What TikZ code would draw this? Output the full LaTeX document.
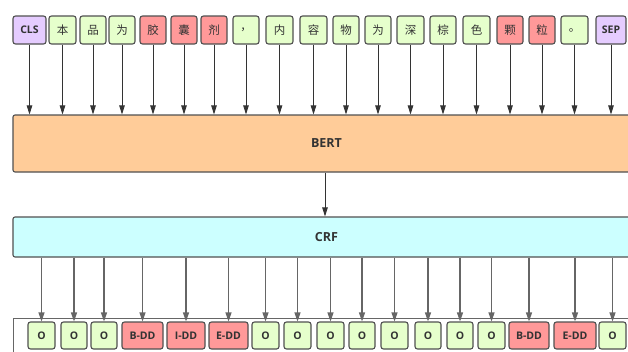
\documentclass[tikz,border=0pt]{standalone}
\usepackage{fontspec}
\setmainfont{Open Sans}
\newfontfamily\cjk{Noto Sans CJK SC}
\usetikzlibrary{arrows.meta}
\definecolor{gfill}{HTML}{E6FFCC}
\definecolor{rfill}{HTML}{FF9999}
\definecolor{pfill}{HTML}{E5CCFF}
\definecolor{bertc}{HTML}{FFCC99}
\definecolor{crfc}{HTML}{CCFFFF}
\definecolor{bordc}{HTML}{505050}
\definecolor{txtc}{HTML}{333333}
\definecolor{arrc}{HTML}{333333}
\definecolor{arr2c}{HTML}{666666}
\tikzset{
  tok/.style={draw=bordc, line width=1.1pt, rounded corners=2.5pt, minimum height=28pt,
    inner sep=0pt, text=txtc, font=\fontsize{10.5}{12}\selectfont\bfseries},
  otok/.style={tok, minimum height=27pt},
  zh/.style={font=\cjk\fontsize{11.5}{13}\selectfont},
  bigbox/.style={draw=bordc, line width=1.1pt, rounded corners=2pt, inner sep=0pt,
    text=txtc, font=\fontsize{12.5}{14}\selectfont\bfseries, minimum width=627pt},
  toparrow/.style={draw=arrc, line width=0.9pt, -{Triangle[length=9pt,width=5.5pt]}},
  botarrow/.style={draw=arr2c, line width=1.1pt, -{Triangle[length=9pt,width=6pt]}},
}
\begin{document}
\begin{tikzpicture}[x=1pt,y=-1pt]
\clip (0,0) rectangle (628,351);
\useasboundingbox (0,0) rectangle (628,351);
\fill[white] (0,0) rectangle (628,351);
% top tokens
\node[tok, fill=pfill, minimum width=33pt] (t1) at (29.5,30) {CLS};
\node[tok, zh, fill=gfill, minimum width=27pt] (t2) at (62.5,30) {本};
\node[tok, zh, fill=gfill, minimum width=26pt] (t3) at (93,30) {品};
\node[tok, zh, fill=gfill, minimum width=26pt] (t4) at (122,30) {为};
\node[tok, zh, fill=rfill, minimum width=26pt] (t5) at (153,30) {胶};
\node[tok, zh, fill=rfill, minimum width=26pt] (t6) at (184,30) {囊};
\node[tok, zh, fill=rfill, minimum width=26pt] (t7) at (214,30) {剂};
\node[tok, zh, fill=gfill, minimum width=26pt] (t8) at (246,30) {，};
\node[tok, zh, fill=gfill, minimum width=27pt] (t9) at (279.5,30) {内};
\node[tok, zh, fill=gfill, minimum width=27pt] (t10) at (313.5,30) {容};
\node[tok, zh, fill=gfill, minimum width=26pt] (t11) at (346,30) {物};
\node[tok, zh, fill=gfill, minimum width=26pt] (t12) at (378,30) {为};
\node[tok, zh, fill=gfill, minimum width=27pt] (t13) at (410.5,30) {深};
\node[tok, zh, fill=gfill, minimum width=26pt] (t14) at (443,30) {棕};
\node[tok, zh, fill=gfill, minimum width=27pt] (t15) at (476.5,30) {色};
\node[tok, zh, fill=rfill, minimum width=26pt] (t16) at (510,30) {颗};
\node[tok, zh, fill=rfill, minimum width=26pt] (t17) at (542,30) {粒};
\node[tok, zh, fill=gfill, minimum width=27pt] (t18) at (574.5,30) {。};
\node[tok, fill=pfill, minimum width=30pt] (t19) at (611,30) {SEP};
% BERT and CRF
\node[bigbox, fill=bertc, minimum height=57pt] (bert) at (326.5,143.5) {BERT};
\node[bigbox, fill=crfc, minimum height=40pt] (crf) at (326.5,237) {CRF};
\foreach \i in {1,...,19} \draw[toparrow] (t\i.south) -- (t\i.south |- bert.north);
\draw[toparrow] (bert.south -| 325,0) -- (crf.north -| 325,0);
% output container
\node[draw=arr2c, line width=1pt, fill=white, minimum width=640pt, minimum height=80pt, anchor=north west, inner sep=0pt] (outbox) at (13,318) {};
% output tokens
\node[otok, fill=gfill, minimum width=27pt] (o1) at (41.5,335.5) {O};
\node[otok, fill=gfill, minimum width=26pt] (o2) at (74,335.5) {O};
\node[otok, fill=gfill, minimum width=26pt] (o3) at (104,335.5) {O};
\node[otok, fill=rfill, minimum width=41pt] (o4) at (142.5,335.5) {B-DD};
\node[otok, fill=rfill, minimum width=38pt] (o5) at (186,335.5) {I-DD};
\node[otok, fill=rfill, minimum width=39pt] (o6) at (228.5,335.5) {E-DD};
\node[otok, fill=gfill, minimum width=27pt] (o7) at (265.5,335.5) {O};
\node[otok, fill=gfill, minimum width=27pt] (o8) at (297.5,335.5) {O};
\node[otok, fill=gfill, minimum width=27pt] (o9) at (330.5,335.5) {O};
\node[otok, fill=gfill, minimum width=26pt] (o10) at (362,335.5) {O};
\node[otok, fill=gfill, minimum width=27pt] (o11) at (394.5,335.5) {O};
\node[otok, fill=gfill, minimum width=26pt] (o12) at (428,335.5) {O};
\node[otok, fill=gfill, minimum width=26pt] (o13) at (460,335.5) {O};
\node[otok, fill=gfill, minimum width=27pt] (o14) at (491.5,335.5) {O};
\node[otok, fill=rfill, minimum width=40pt] (o15) at (529,335.5) {B-DD};
\node[otok, fill=rfill, minimum width=42pt] (o16) at (575,335.5) {E-DD};
\node[otok, fill=gfill, minimum width=27pt] (o17) at (612.5,335.5) {O};
\foreach \i in {1,...,17} \draw[botarrow] (o\i.north |- crf.south) -- (o\i.north);
\end{tikzpicture}
\end{document}
